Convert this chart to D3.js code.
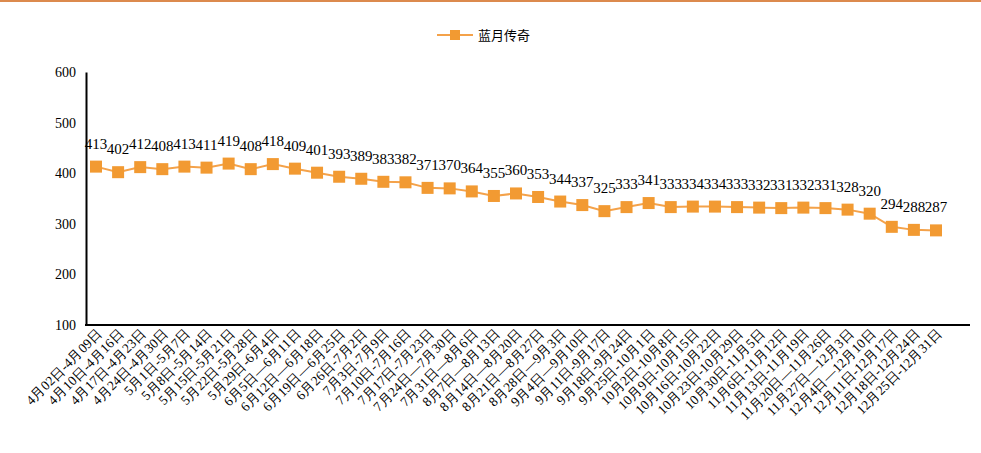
<!DOCTYPE html>
<html><head><meta charset="utf-8">
<script src="https://cdn.jsdelivr.net/npm/d3@7"></script>
<style>body{margin:0;background:#fff}svg{display:block}</style>
</head><body>
<svg id="c" width="981" height="453"></svg>
<script>
const seriesName = "蓝月传奇";
const categories = ["4月02日-4月09日","4月10日-4月16日","4月17日-4月23日","4月24日-4月30日","5月1日-5月7日","5月8日-5月14日","5月15日-5月21日","5月22日-5月28日","5月29日-6月4日","6月5日—6月11日","6月12日—6月18日","6月19日—6月25日","6月26日-7月2日","7月3日-7月9日","7月10日-7月16日","7月17日-7月23日","7月24日—7月30日","7月31日—8月6日","8月7日—8月13日","8月14日—8月20日","8月21日—8月27日","8月28日—9月3日","9月4日—9月10日","9月11日-9月17日","9月18日-9月24日","9月25日-10月1日","10月2日-10月8日","10月9日-10月15日","10月16日-10月22日","10月23日-10月29日","10月30日-11月5日","11月6日-11月12日","11月13日-11月19日","11月20日—11月26日","11月27日—12月3日","12月4日—12月10日","12月11日-12月17日","12月18日-12月24日","12月25日-12月31日"];
const values = [413,402,412,408,413,411,419,408,418,409,401,393,389,383,382,371,370,364,355,360,353,344,337,325,333,341,333,334,334,333,332,331,332,331,328,320,294,288,287];
const yTicks = [100,200,300,400,500,600];

const svg = d3.select("#c");
const orange = "#f29a32";
const serif = "'Liberation Serif','Times New Roman',serif";

svg.append("rect").attr("x",0).attr("y",0).attr("width",981).attr("height",2).attr("fill","#dc8a4e");

const x = d3.scalePoint().domain(categories).range([96, 936]);
const y = d3.scaleLinear().domain([100, 600]).range([325, 72]);
const axisLeft = 86, axisRight = 970;

// y axis
const ya = svg.append("g").attr("transform",`translate(${axisLeft},0)`)
  .call(d3.axisLeft(y).tickValues(yTicks).tickSize(0).tickPadding(10));
ya.select(".domain").attr("stroke","#000").attr("stroke-width",2);
ya.selectAll("text").attr("font-family",serif).attr("font-size",14).attr("fill","#000");

// x axis
svg.append("line").attr("x1",axisLeft-1).attr("x2",axisRight).attr("y1",325).attr("y2",325)
  .attr("stroke","#000").attr("stroke-width",2);
const xa = svg.append("g").attr("transform","translate(0,325)")
  .call(d3.axisBottom(x).tickSize(0).tickFormat(d=>d));
xa.select(".domain").remove();
xa.selectAll("text")
  .attr("font-family",serif).attr("font-size",13.5).attr("fill","#000")
  .attr("text-anchor","end")
  .attr("transform","translate(3,6) rotate(-45)")
  .attr("dy","0.35em").attr("y",0).attr("x",0);

// line
const line = d3.line().x((d,i)=>x(categories[i])).y(d=>y(d));
svg.append("path").datum(values).attr("d",line).attr("fill","none")
  .attr("stroke","#f4a24a").attr("stroke-width",2);
svg.selectAll("rect.m").data(values).enter().append("rect").attr("class","m")
  .attr("x",(d,i)=>x(categories[i])-6).attr("y",d=>y(d)-6)
  .attr("width",12).attr("height",12).attr("fill",orange);
svg.selectAll("text.lbl").data(values).enter().append("text").attr("class","lbl")
  .attr("x",(d,i)=>x(categories[i])).attr("y",d=>y(d)-18)
  .attr("text-anchor","middle").attr("font-family",serif).attr("font-size",15).attr("fill","#000")
  .text(d=>d);

// legend
const lg = svg.append("g");
lg.append("line").attr("x1",437).attr("x2",473).attr("y1",35).attr("y2",35).attr("stroke","#f4a24a").attr("stroke-width",2);
lg.append("rect").attr("x",450).attr("y",30).attr("width",10).attr("height",10).attr("fill",orange);
lg.append("text").attr("x",478).attr("y",40).attr("font-family","'Noto Sans CJK SC',sans-serif").attr("font-size",13).attr("fill","#000").text(seriesName);
</script>
</body></html>
